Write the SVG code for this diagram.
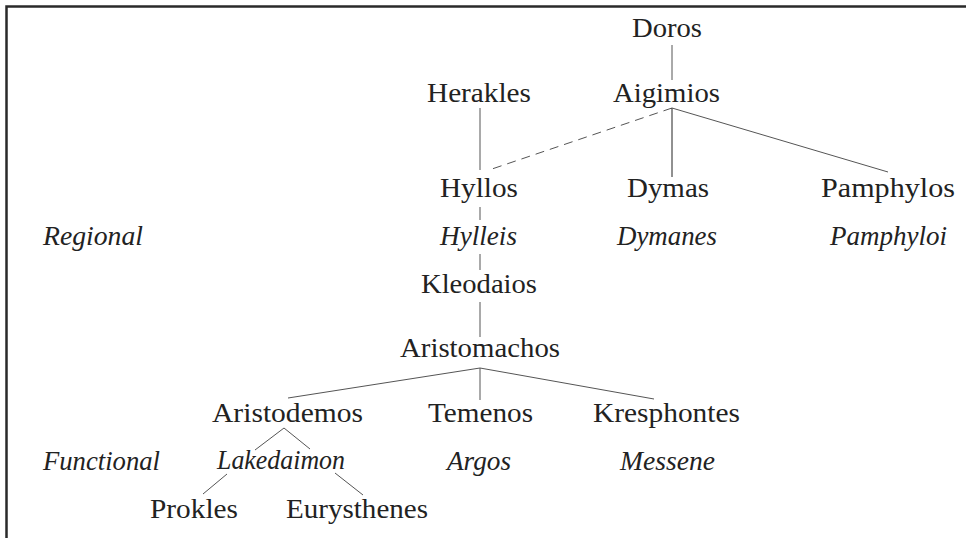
<svg xmlns="http://www.w3.org/2000/svg" width="966" height="538" viewBox="0 0 966 538">
<style>
text{font-size:27px;fill:#222}
.i{font-style:italic}
.c line{stroke:#555;stroke-width:1}
.d{stroke-dasharray:9 6}
.frame{stroke:#2a2a2a;stroke-width:2.5;fill:none}
</style>
<rect width="966" height="538" fill="#fff"/>
<path class="frame" d="M966 6.5H6.5V538"/>
<g class="c" id="connectors">
<line x1="672" y1="45" x2="672" y2="80"/>
<line x1="480" y1="108" x2="480" y2="170"/>
<line class="d" x1="672" y1="108" x2="489" y2="170"/>
<line x1="672" y1="108" x2="672" y2="177" style="stroke:#222"/>
<line x1="672" y1="108" x2="888" y2="172"/>
<line x1="480" y1="207" x2="480" y2="220"/>
<line x1="480" y1="254" x2="480" y2="270"/>
<line x1="480" y1="302" x2="480" y2="337"/>
<line x1="480" y1="368" x2="288" y2="398"/>
<line x1="480" y1="368" x2="480" y2="400"/>
<line x1="480" y1="368" x2="654" y2="399"/>
<line x1="284" y1="428" x2="255" y2="450"/>
<line x1="284" y1="428" x2="310" y2="449"/>
<line x1="227" y1="474" x2="203" y2="494"/>
<line x1="335" y1="473" x2="363" y2="495"/>
</g>
<g font-family="'Liberation Serif', 'Times New Roman', Times, serif">
<g id="doros"><text x="632" y="37" textLength="70" lengthAdjust="spacingAndGlyphs">Doros</text></g>
<g id="herakles"><text x="427" y="102" textLength="104" lengthAdjust="spacingAndGlyphs">Herakles</text></g>
<g id="aigimios"><text x="613" y="102" textLength="107" lengthAdjust="spacingAndGlyphs">Aigimios</text></g>
<g id="hyllos"><text x="440" y="197" textLength="78" lengthAdjust="spacingAndGlyphs">Hyllos</text></g>
<g id="dymas"><text x="627" y="197" textLength="82" lengthAdjust="spacingAndGlyphs">Dymas</text></g>
<g id="pamphylos"><text x="821" y="197" textLength="134" lengthAdjust="spacingAndGlyphs">Pamphylos</text></g>
<g id="regional"><text class="i" x="43" y="245" textLength="100" lengthAdjust="spacingAndGlyphs">Regional</text></g>
<g id="hylleis"><text class="i" x="440" y="245" textLength="77" lengthAdjust="spacingAndGlyphs">Hylleis</text></g>
<g id="dymanes"><text class="i" x="617" y="245" textLength="100" lengthAdjust="spacingAndGlyphs">Dymanes</text></g>
<g id="pamphyloi"><text class="i" x="830" y="245" textLength="117" lengthAdjust="spacingAndGlyphs">Pamphyloi</text></g>
<g id="kleodaios"><text x="421" y="293" textLength="116" lengthAdjust="spacingAndGlyphs">Kleodaios</text></g>
<g id="aristomachos"><text x="400" y="357" textLength="160" lengthAdjust="spacingAndGlyphs">Aristomachos</text></g>
<g id="aristodemos"><text x="212" y="422" textLength="151" lengthAdjust="spacingAndGlyphs">Aristodemos</text></g>
<g id="temenos"><text x="428" y="422" textLength="105" lengthAdjust="spacingAndGlyphs">Temenos</text></g>
<g id="kresphontes"><text x="593" y="422" textLength="147" lengthAdjust="spacingAndGlyphs">Kresphontes</text></g>
<g id="functional"><text class="i" x="43" y="470" textLength="117" lengthAdjust="spacingAndGlyphs">Functional</text></g>
<g id="lakedaimon"><text class="i" x="217" y="469" textLength="128" lengthAdjust="spacingAndGlyphs">Lakedaimon</text></g>
<g id="argos"><text class="i" x="447" y="470" textLength="64" lengthAdjust="spacingAndGlyphs">Argos</text></g>
<g id="messene"><text class="i" x="620" y="470" textLength="95" lengthAdjust="spacingAndGlyphs">Messene</text></g>
<g id="prokles"><text x="150" y="518" textLength="88" lengthAdjust="spacingAndGlyphs">Prokles</text></g>
<g id="eurysthenes"><text x="286" y="518" textLength="142" lengthAdjust="spacingAndGlyphs">Eurysthenes</text></g>
</g>
</svg>
